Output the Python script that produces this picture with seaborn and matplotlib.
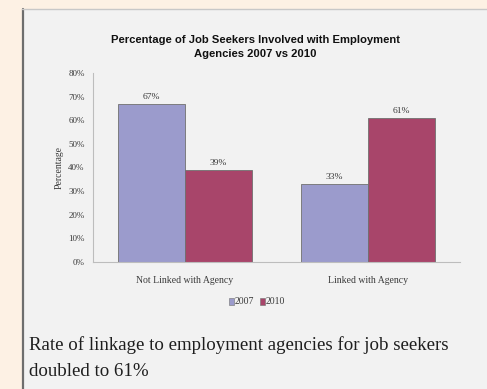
import matplotlib
matplotlib.use("Agg")
import matplotlib.pyplot as plt
import seaborn as sns
import pandas as pd
from matplotlib.patches import Rectangle
from matplotlib.ticker import FuncFormatter

categories = ["Not Linked with Agency", "Linked with Agency"]
years = ["2007", "2010"]
values_2007 = [67, 33]
values_2010 = [39, 61]
yticks = [0, 10, 20, 30, 40, 50, 60, 70, 80]

df = pd.DataFrame({
    "category": categories * 2,
    "year": [years[0]] * 2 + [years[1]] * 2,
    "value": values_2007 + values_2010,
})

sns.set_theme(style="white")
plt.rcParams["font.family"] = ["Liberation Serif", "DejaVu Serif"]

W, H = 487, 389
fig = plt.figure(figsize=(W / 100, H / 100), dpi=100)
fig.patch.set_facecolor("#fdf1e4")

# panel
fig.patches.append(Rectangle((22 / W, 0), 1.0, (H - 9) / H, transform=fig.transFigure,
                             facecolor="#f2f2f2", edgecolor="none", zorder=-2))
fig.lines.append(plt.Line2D([22.5 / W, 22.5 / W], [0, (H - 9) / H], transform=fig.transFigure,
                            color="#6e6e6e", lw=1.6, zorder=-1))
fig.lines.append(plt.Line2D([22 / W, 1], [(H - 9) / H, (H - 9) / H], transform=fig.transFigure,
                            color="#c8c8c8", lw=1.0, zorder=-1))

ax = fig.add_axes([93 / W, (H - 262) / H, 367 / W, 189 / H])
ax.set_zorder(1)
ax.set_facecolor("none")
palette = {"2007": "#9b9bcc", "2010": "#a8456a"}
sns.barplot(data=df, x="category", y="value", hue="year", palette=palette,
            width=0.73, edgecolor="#707070", linewidth=0.6, ax=ax, saturation=1)

txt = "#3a3a3a"
ax.set_ylim(0, 80)
ax.set_yticks(yticks)
ax.yaxis.set_major_formatter(FuncFormatter(lambda v, p: f"{int(v)}%"))
ax.tick_params(axis="both", length=0, labelsize=6.5, colors=txt)
ax.tick_params(axis="y", pad=6)
ax.tick_params(axis="x", pad=10, labelsize=7)
ax.set_xlabel("")
ax.set_ylabel("Percentage", fontsize=7, color=txt, labelpad=3)
for s in ["top", "right"]:
    ax.spines[s].set_visible(False)
for s in ["left", "bottom"]:
    ax.spines[s].set_color("#bdbdbd")
    ax.spines[s].set_linewidth(0.8)

for cont in ax.containers:
    ax.bar_label(cont, fmt="%d%%", fontsize=6.8, color=txt, padding=2)

leg = ax.get_legend()
if leg is not None:
    leg.remove()
handles = [Rectangle((0, 0), 1, 1, facecolor=palette[y], edgecolor="#707070", linewidth=0.4) for y in years]
fig.legend(handles, years, loc="center", bbox_to_anchor=(257 / W, (H - 302) / H), ncol=2,
           frameon=False, fontsize=7, handlelength=0.5, handleheight=0.7, handletextpad=0.1,
           columnspacing=0.6, labelcolor=txt)

fig.text(255 / W, (H - 40) / H, "Percentage of Job Seekers Involved with Employment",
         ha="center", va="center", fontsize=8.1, fontweight="bold", family=["Liberation Sans", "DejaVu Sans"],
         color="#111111")
fig.text(255 / W, (H - 54) / H, "Agencies 2007 vs 2010",
         ha="center", va="center", fontsize=8.1, fontweight="bold", family=["Liberation Sans", "DejaVu Sans"],
         color="#111111")

fig.text(29 / W, (H - 345) / H, "Rate of linkage to employment agencies for job seekers",
         ha="left", va="center", fontsize=13.6, color="#1e1e1e")
fig.text(29 / W, (H - 372) / H, "doubled to 61%",
         ha="left", va="center", fontsize=13.6, color="#1e1e1e")

fig.savefig("out.png", dpi=100)
